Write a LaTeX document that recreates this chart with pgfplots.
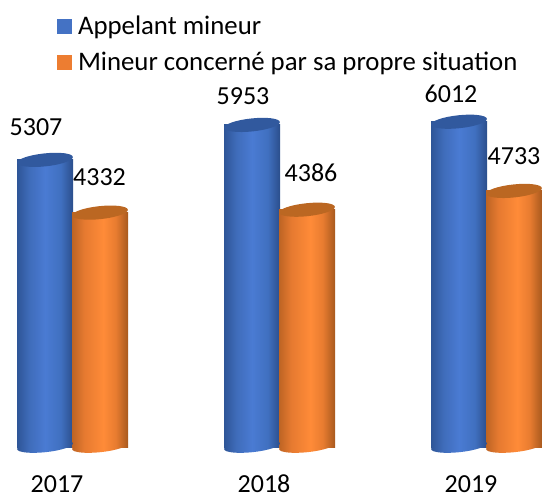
\documentclass[border=0pt]{standalone}
\usepackage{pgfplots}
\usepackage{fontspec}
\setmainfont{Carlito}
\pgfplotsset{compat=1.18}
\definecolor{bluecylA}{HTML}{2E5597}
\definecolor{bluecylB}{HTML}{3F6CBA}
\definecolor{bluecylC}{HTML}{4A7BD3}
\definecolor{bluecylD}{HTML}{4070C0}
\definecolor{bluecylE}{HTML}{2B4E8C}
\definecolor{orcylA}{HTML}{BD6424}
\definecolor{orcylB}{HTML}{E67A30}
\definecolor{orcylC}{HTML}{FF8B38}
\definecolor{orcylD}{HTML}{E87C30}
\definecolor{orcylE}{HTML}{A8591E}
\definecolor{legblue}{HTML}{4472C4}
\definecolor{legorange}{HTML}{ED7D31}
\definecolor{topblue}{HTML}{31599E}
\definecolor{toporange}{HTML}{BB6722}
\pgfdeclarehorizontalshading{bluecyl}{100bp}{color(0bp)=(bluecylA); color(25bp)=(bluecylA); color(36bp)=(bluecylB); color(50bp)=(bluecylC); color(64bp)=(bluecylD); color(75bp)=(bluecylE); color(100bp)=(bluecylE)}
\pgfdeclarehorizontalshading{orangecyl}{100bp}{color(0bp)=(orcylA); color(25bp)=(orcylA); color(36bp)=(orcylB); color(53bp)=(orcylC); color(64bp)=(orcylD); color(75bp)=(orcylE); color(100bp)=(orcylE)}
\pgfdeclareplotmark{bluebase}{\pgftransformrotate{6}\pgfpathellipse{\pgfpointorigin}{\pgfpoint{28pt}{0pt}}{\pgfpoint{0pt}{6pt}}\pgfshadepath{bluecyl}{0}\pgfusepath{discard}}
\pgfdeclareplotmark{orangebase}{\pgftransformrotate{6}\pgfpathellipse{\pgfpointorigin}{\pgfpoint{28pt}{0pt}}{\pgfpoint{0pt}{6pt}}\pgfshadepath{orangecyl}{0}\pgfusepath{discard}}
\pgfdeclareplotmark{bluecap}{\pgfsetfillcolor{topblue}\pgftransformrotate{6}\pgfpathellipse{\pgfpointorigin}{\pgfpoint{28pt}{0pt}}{\pgfpoint{0pt}{6.5pt}}\pgfusepathqfill}
\pgfdeclareplotmark{orangecap}{\pgfsetfillcolor{toporange}\pgftransformrotate{6}\pgfpathellipse{\pgfpointorigin}{\pgfpoint{28pt}{0pt}}{\pgfpoint{0pt}{6.5pt}}\pgfusepathqfill}
\begin{document}
\begin{tikzpicture}
\useasboundingbox (0,-28pt) rectangle (542pt,470pt);
\begin{axis}[
  at={(0,0)}, anchor=south west,
  scale only axis, width=542pt, height=470pt,
  xmin=0, xmax=542, ymin=-425, ymax=8262,
  clip=false,
  axis line style={draw=none},
  tick style={draw=none},
  xtick={57,264,471},
  xticklabels={2017,2018,2019},
  xticklabel style={font=\fontsize{26}{30}\selectfont, text height=17pt, text depth=0pt, inner ysep=0pt, yshift=-5pt},
  ytick=\empty,
  legend style={draw=none, fill=none, at={(axis cs:57,8262)}, anchor=north west,
    font=\fontsize{26.8}{30}\selectfont, row sep=12pt, inner sep=0pt, outer sep=0pt, yshift=-14pt},
  legend cell align=left,
  cylbar/.style={forget plot, ybar, bar shift=0pt, bar width=56pt, draw=none, shade, shading=#1},
  cylmark/.style={forget plot, only marks, mark=#1},
]
% blue series: base, body, cap
\addplot[cylmark=bluebase] coordinates {(45,15) (252,15) (459,15)};
\addplot[cylbar=bluecyl] coordinates {(45,5307)};
\addplot[cylbar=bluecyl] coordinates {(252,5953)};
\addplot[cylbar=bluecyl] coordinates {(459,6012)};
\addplot[cylmark=bluecap] coordinates {(45,5307) (252,5953) (459,6012)};
% orange series: base, body, cap
\addplot[cylmark=orangebase] coordinates {(100,15) (307,15) (514,15)};
\addplot[cylbar=orangecyl] coordinates {(100,4332)};
\addplot[cylbar=orangecyl] coordinates {(307,4386)};
\addplot[cylbar=orangecyl] coordinates {(514,4733)};
\addplot[cylmark=orangecap] coordinates {(100,4332) (307,4386) (514,4733)};
% legend keys
\addlegendimage{area legend, draw=none, fill=legblue, legend image code/.code={\fill[legblue] (0pt,-7.5pt) rectangle (15pt,7.5pt); \path (19pt,0pt);}}
\addlegendentry{Appelant mineur}
\addlegendimage{area legend, draw=none, fill=legorange, legend image code/.code={\fill[legorange] (0pt,-7.5pt) rectangle (15pt,7.5pt); \path (19pt,0pt);}}
\addlegendentry{Mineur concerné par sa propre situation}
% labels
\def\lab#1#2#3{\node[font=\fontsize{26}{30}\selectfont, inner sep=0pt] at (axis cs:#1,{(447-#2)/0.0541}) {#3};}
\lab{36}{127}{5307}
\lab{99.5}{177}{4332}
\lab{243}{96}{5953}
\lab{311}{173}{4386}
\lab{451}{94}{6012}
\lab{514}{156}{4733}
\end{axis}
\end{tikzpicture}
\end{document}
